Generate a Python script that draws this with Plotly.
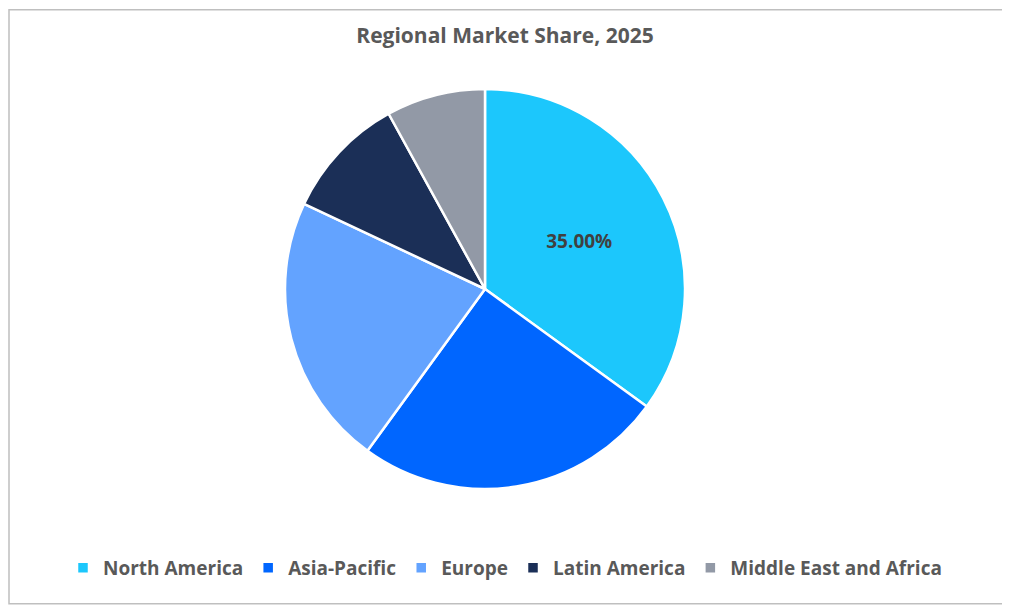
import plotly.graph_objects as go

regions = ["North America", "Asia-Pacific", "Europe", "Latin America", "Middle East and Africa"]
shares = [35, 25, 22, 10, 8]
colors = ["#1CC7FC", "#0066FF", "#63A3FF", "#1B2F57", "#9299A6"]
texts = ["<b>35.00%</b>", "", "", "", ""]

# the page has an 8px body margin, so work in shifted coordinates
OFF = 8
W, H = 1010 - OFF, 605 - OFF


def px_y(y):
    return 1 - (y - OFF) / H


def px_x(x):
    return (x - OFF) / W


fig = go.Figure(go.Pie(
    labels=regions, values=shares, sort=False, direction="clockwise", rotation=0,
    marker=dict(colors=colors, line=dict(color="white", width=2.5)),
    text=texts, texttemplate="%{text}", textposition="inside",
    insidetextfont=dict(size=19, color="#404040", family="Open Sans"),
    domain=dict(x=[px_x(285), px_x(685)], y=[px_y(489), px_y(89)]),
    hoverinfo="label+percent",
))
fig.update_layout(
    width=W, height=H, margin=dict(l=0, r=0, t=0, b=0),
    paper_bgcolor="white",
    title=dict(text="<b>Regional Market Share, 2025</b>", x=px_x(505), y=px_y(36), xanchor="center", yanchor="middle",
               font=dict(size=21, color="#595959", family="Open Sans")),
    legend=dict(orientation="h", x=px_x(505), xanchor="center", y=px_y(568), yanchor="middle",
                font=dict(size=19, color="#595959", family="Open Sans"), itemwidth=30,
                traceorder="normal"),
    shapes=[dict(type="rect", xref="paper", yref="paper", x0=0.001, y0=0.002, x1=0.998, y1=0.997,
                 line=dict(color="#BFBFBF", width=1.5))],
)
fig.for_each_trace(lambda t: None)
fig.update_layout(legend_font_size=19)
fig.update_traces(legendgrouptitle_text=None)
fig.layout.legend.font.weight = "bold"
fig.write_html("out.html")
